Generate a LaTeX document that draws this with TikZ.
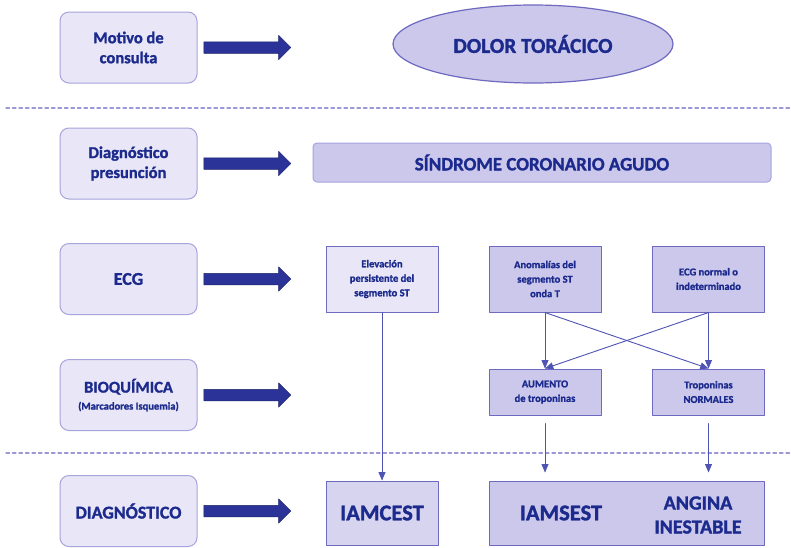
\documentclass[tikz,border=0pt]{standalone}
\usepackage{fontspec}
\setmainfont{Carlito}[BoldFeatures={FakeBold=1.4}]
\usetikzlibrary{shapes.geometric,shapes.arrows,arrows}

\definecolor{azul}{HTML}{1B2A8C}
\definecolor{flecha}{HTML}{2B3398}
\definecolor{borde}{HTML}{A7A3DD}
\definecolor{bordeosc}{HTML}{6E6AC0}
\definecolor{claro}{HTML}{E9E7F7}
\definecolor{medio}{HTML}{CBC8EC}
\definecolor{linea}{HTML}{4F53B3}

\tikzset{
  paso/.style={draw=borde,line width=1pt,fill=claro,rounded corners=9pt,
    minimum width=137pt,minimum height=71pt,align=center,text=azul,
    font=\bfseries\fontsize{16.5}{20}\selectfont},
  bigarrow/.style={single arrow,draw=flecha!70!black,fill=flecha,line width=0.5pt,
    minimum height=87pt,minimum width=23pt,single arrow head extend=6.5pt,inner sep=5.5pt},
  caja/.style={draw=bordeosc,line width=1pt,fill=medio,minimum width=112pt,
    align=center,text=azul,font=\bfseries\fontsize{10.5}{14.5}\selectfont},
  grande/.style={text=azul,align=center,font=\bfseries\fontsize{22.5}{24}\selectfont},
  flechita/.style={->,draw=linea,line width=0.9pt},
  corte/.style={draw=borde!80!bordeosc,line width=1.2pt,dash pattern=on 3.5pt off 3pt},
}

\begin{document}
\begin{tikzpicture}[line cap=round,line join=round,>=triangle 45,x=1pt,y=-1pt]
\useasboundingbox[fill=white] (0,0) rectangle (791,547);
% fila izquierda
\node[paso] (motivo) at (128.5,47.5) {Motivo de\\consulta};
\node[paso] (presun) at (128.5,163.5) {Diagnóstico\\presunción};
\node[paso,font=\bfseries\fontsize{18}{20}\selectfont] (ecg) at (128.5,279) {ECG};
\node[paso] (bioq) at (128.5,395) {BIOQUÍMICA\\[-3pt]{\fontsize{10.5}{12}\selectfont(Marcadores Isquemia)}};
\node[paso,font=\bfseries\fontsize{18}{20}\selectfont] (diag) at (128.5,511) {DIAGNÓSTICO};
\foreach \y/\n in {47.5/a1,163.5/a2,279/a3,395/a4,511/a5}
  \node[bigarrow] (\n) at (244.5,\y) {};
% separadores
\draw[corte] (6,108) -- (791,108);
\draw[corte] (6,453) -- (791,453);
% columna derecha
\node[ellipse,draw=bordeosc,line width=1.2pt,fill=medio,minimum width=280pt,minimum height=78pt,
  text=azul,font=\bfseries\fontsize{21.3}{23}\selectfont] (dolor) at (533,44) {DOLOR TORÁCICO};
\node[draw=borde,line width=1pt,fill=medio,rounded corners=4pt,minimum width=458pt,minimum height=39pt,
  text=azul,font=\bfseries\fontsize{18.9}{20}\selectfont] (sca) at (542,162.5) {SÍNDROME CORONARIO AGUDO};
\node[caja,fill=claro,minimum height=66pt] (elev) at (382,279) {Elevación\\persistente del\\segmento ST};
\node[caja,minimum height=66pt] (anom) at (545,279) {Anomalías del\\segmento ST\\onda T};
\node[caja,minimum height=66pt] (ecgn) at (708.5,279) {ECG normal o\\indeterminado};
\node[caja,minimum height=46pt] (aum) at (545,392) {AUMENTO\\de troponinas};
\node[caja,minimum height=46pt] (trnorm) at (708.5,392) {Troponinas\\NORMALES};
\node[caja,fill=medio!60!claro,minimum height=64pt,grande] (iamcest) at (382,513) {IAMCEST};
\node[caja,minimum width=275pt,minimum height=64pt] (sinst) at (626.5,513) {};
\node[grande] (iamsest) at (561,513) {IAMSEST};
\node[grande,font=\bfseries\fontsize{20}{24}\selectfont] (angina) at (698,515) {ANGINA\\INESTABLE};
% conectores
\draw[flechita] (elev) -- (iamcest);
\draw[flechita] (anom) -- (aum);
\draw[flechita] (anom.south) -- (trnorm.north);
\draw[flechita] (ecgn.south) -- (aum.north);
\draw[flechita] (ecgn) -- (trnorm);
\draw[flechita,shorten <=8pt,shorten >=8pt] (aum.south) -- (aum.south |- sinst.north);
\draw[flechita,shorten <=8pt,shorten >=8pt] (trnorm.south) -- (trnorm.south |- sinst.north);
\end{tikzpicture}
\end{document}
